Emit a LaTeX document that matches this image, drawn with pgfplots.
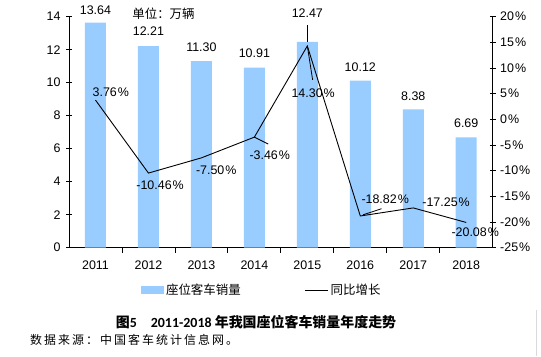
\documentclass[border=0pt]{standalone}
\usepackage{fontspec}
\setmainfont{Liberation Sans}
\newfontfamily\cjk{Noto Sans CJK SC}
\newfontfamily\calfont{Carlito}
\usepackage{pgfplots}
\pgfplotsset{compat=1.18}
\definecolor{barblue}{RGB}{153,204,255}
\begin{document}
\begin{tikzpicture}[x=1bp,y=1bp]
\useasboundingbox (0,0) rectangle (541,356);
\fill[white] (0,0) rectangle (541,356);
\pgfplotsset{
  common/.style={
    at={(69bp,108.3bp)}, anchor=south west,
    scale only axis, width=423.7bp, height=231bp,
    xmin=-0.5, xmax=7.5, clip=false,
    axis line style={black, line width=0.8bp},
    tick style={black, line width=0.8bp},
    tick label style={font=\fontsize{12.5}{14}\selectfont, text=black},
    /pgf/number format/assume math mode=true,
  }
}
\begin{axis}[common,
  ymin=0, ymax=14,
  axis x line*=bottom, axis y line*=left,
  ybar, bar width=21bp, bar shift=0pt,
  xtick={0,...,7},
  xticklabels={2011,2012,2013,2014,2015,2016,2017,2018},
  major x tick style={draw=none},
  minor xtick={0.5,1.5,...,6.5},
  minor tick length=5bp,
  x tick label style={yshift=-4bp},
  ytick={0,2,...,14},
  ytick align=center, major tick length=6bp,
  y tick label style={xshift=-2bp},
  legend style={at={(0.455,-0.183)}, anchor=center, draw=none, fill=none,
    legend columns=2, font=\cjk\fontsize{12.5}{14}\selectfont,
    /tikz/every even column/.append style={column sep=62bp},
    legend cell align=left},
]
\addplot[fill=barblue, draw=none,
  legend image code/.code={\fill[barblue] (0bp,-4bp) rectangle (23bp,4bp);}]
  coordinates {(0,13.64) (1,12.21) (2,11.30) (3,10.91) (4,12.47) (5,10.12) (6,8.38) (7,6.69)};
\addlegendentry{座位客车销量}
\addlegendimage{legend image code/.code={\draw[black, line width=0.9bp] (0bp,0bp) -- (23bp,0bp);}}
\addlegendentry{同比增长}
\begin{scope}[font=\fontsize{12.5}{14}\selectfont]
\node at (axis cs:0,14.4) {13.64};
\node at (axis cs:1,13.13) {12.21};
\node at (axis cs:2,12.16) {11.30};
\node at (axis cs:3,11.8) {10.91};
\node at (axis cs:4,14.2) {12.47};
\node at (axis cs:5,10.95) {10.12};
\node at (axis cs:6,9.2) {8.38};
\node at (axis cs:7,7.55) {6.69};
\end{scope}
\draw[black, line width=0.8bp] (axis cs:4,12.47) -- (axis cs:4,13.5);
\node[font=\cjk\fontsize{12.5}{14}\selectfont, anchor=west] at (axis cs:0.63,14.2) {单位：万辆};
\end{axis}
\begin{axis}[common,
  ymin=-25, ymax=20,
  axis x line=none, axis y line*=right,
  ytick={-25,-20,...,20},
  ytick align=center, major tick length=6bp,
  yticklabel={\pgfmathprintnumber{\tick}\kern1pt\%},
  y tick label style={xshift=1bp},
]
\addplot[black, line width=0.9bp, sharp plot, mark=none]
  coordinates {(0,3.76) (1,-10.46) (2,-7.50) (3,-3.46) (4,14.30) (5,-18.82) (6,-17.25) (7,-20.08)};
\begin{scope}[font=\fontsize{12.5}{14}\selectfont]
\node at (axis cs:0.29,5.3) {3.76\kern1pt\%};
\node at (axis cs:1.22,-12.8) {-10.46\kern1pt\%};
\node at (axis cs:2.28,-9.85) {-7.50\kern1pt\%};
\node at (axis cs:3.29,-6.9) {-3.46\kern1pt\%};
\node at (axis cs:4.11,5.1) {14.30\kern1pt\%};
\node at (axis cs:5.47,-15.5) {-18.82\kern1pt\%};
\node at (axis cs:6.62,-16.1) {-17.25\kern1pt\%};
\node at (axis cs:7.17,-22.0) {-20.08\kern1pt\%};
\end{scope}
\draw[black, line width=0.8bp] (axis cs:3,-3.46) -- (axis cs:3.26,-4.8);
\draw[black, line width=0.8bp] (axis cs:4,14.3) -- (axis cs:4.1,7.7);
\draw[black, line width=0.8bp] (axis cs:5.05,-18.6) -- (axis cs:5.4,-17.4);
\end{axis}
\node at (256,34) {{\cjk\bfseries\fontsize{14}{16}\selectfont 图}{\calfont\bfseries\fontsize{14}{16}\selectfont 5\hspace{14bp}2011-2018 }{\cjk\bfseries\fontsize{14}{16}\selectfont 年我国座位客车销量年度走势}};
\node[anchor=west, inner sep=0pt] at (30,16) {\cjk\fontsize{12}{14}\selectfont\addfontfeature{LetterSpace=17}数据来源：中国客车统计信息网。};
\draw[gray!30, line width=1bp] (536,0) -- (536,46);
\end{tikzpicture}
\end{document}
